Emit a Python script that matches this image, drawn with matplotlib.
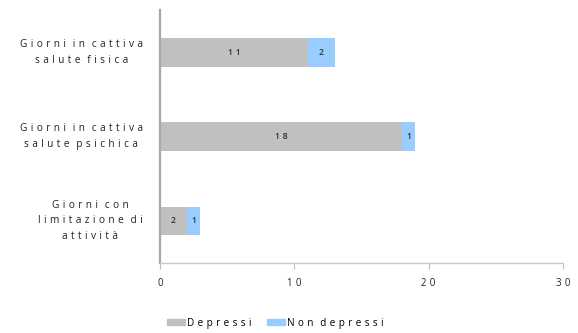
import matplotlib
matplotlib.use("Agg")
import matplotlib.pyplot as plt
from matplotlib.patches import Patch

categories = ["Giorni in cattiva\nsalute fisica",
              "Giorni in cattiva\nsalute psichica",
              "Giorni con\nlimitazione di\nattività"]
depressi = [11, 18, 2]
non_depressi = [2, 1, 1]
x_ticks = [0, 10, 20, 30]
series_names = ["Depressi", "Non depressi"]

GRAY = "#C0C0C0"
BLUE = "#99CCFF"
FONT = ["Open Sans", "DejaVu Sans"]
GAP = "\u2004"  # three-per-em space used as letter spacing


def spaced(text):
    """Spread characters apart, keeping line breaks and widening word gaps."""
    lines = []
    for line in str(text).split("\n"):
        words = [GAP.join(w) for w in line.split(" ")]
        lines.append((GAP * 2).join(words))
    return "\n".join(lines)


fig = plt.figure(figsize=(5.78, 3.33), dpi=100)
ax = fig.add_axes([0.277, 0.21, 0.697, 0.76])

ypos = list(range(len(categories)))
h = 0.34
ax.barh(ypos, depressi, height=h, color=GRAY, edgecolor="none")
ax.barh(ypos, non_depressi, left=depressi, height=h, color=BLUE, edgecolor="none")

for y, d, n in zip(ypos, depressi, non_depressi):
    ax.text(d / 2, y, spaced(d), ha="center", va="center", fontsize=6.2,
            color="#303030", family=FONT, fontweight="semibold")
    ax.text(d + n / 2, y, spaced(n), ha="center", va="center", fontsize=6.2,
            color="#303030", family=FONT, fontweight="semibold")

ax.set_xlim(0, 30)
ax.set_ylim(2.5, -0.5)
ax.set_xticks(x_ticks)
ax.set_xticklabels([spaced(t) for t in x_ticks], fontsize=7, family=FONT,
                   color="#222222")
ax.tick_params(axis="x", length=4, width=0.8, color="#BBBBBB", pad=7)
ax.set_yticks([])

for lab, y in zip(categories, ypos):
    ax.text(-1.3, y, spaced(lab), ha="right", va="center", multialignment="center",
            fontsize=7.3, family=FONT, color="#222222", linespacing=1.6,
            transform=ax.transData)

for s in ["top", "right"]:
    ax.spines[s].set_visible(False)
ax.spines["left"].set_color("#A8A8A8")
ax.spines["left"].set_linewidth(1.6)
ax.spines["bottom"].set_color("#C8C8C8")
ax.spines["bottom"].set_linewidth(1.0)

handles = [Patch(color=GRAY), Patch(color=BLUE)]
fig.legend(handles, [spaced(s) for s in series_names], loc="center",
           bbox_to_anchor=(0.476, 0.03), ncol=2, frameon=False,
           prop={"family": FONT, "size": 7.2}, handlelength=1.8, handleheight=0.6,
           handletextpad=0.2, columnspacing=1.6)

fig.savefig("out.png", dpi=100)
